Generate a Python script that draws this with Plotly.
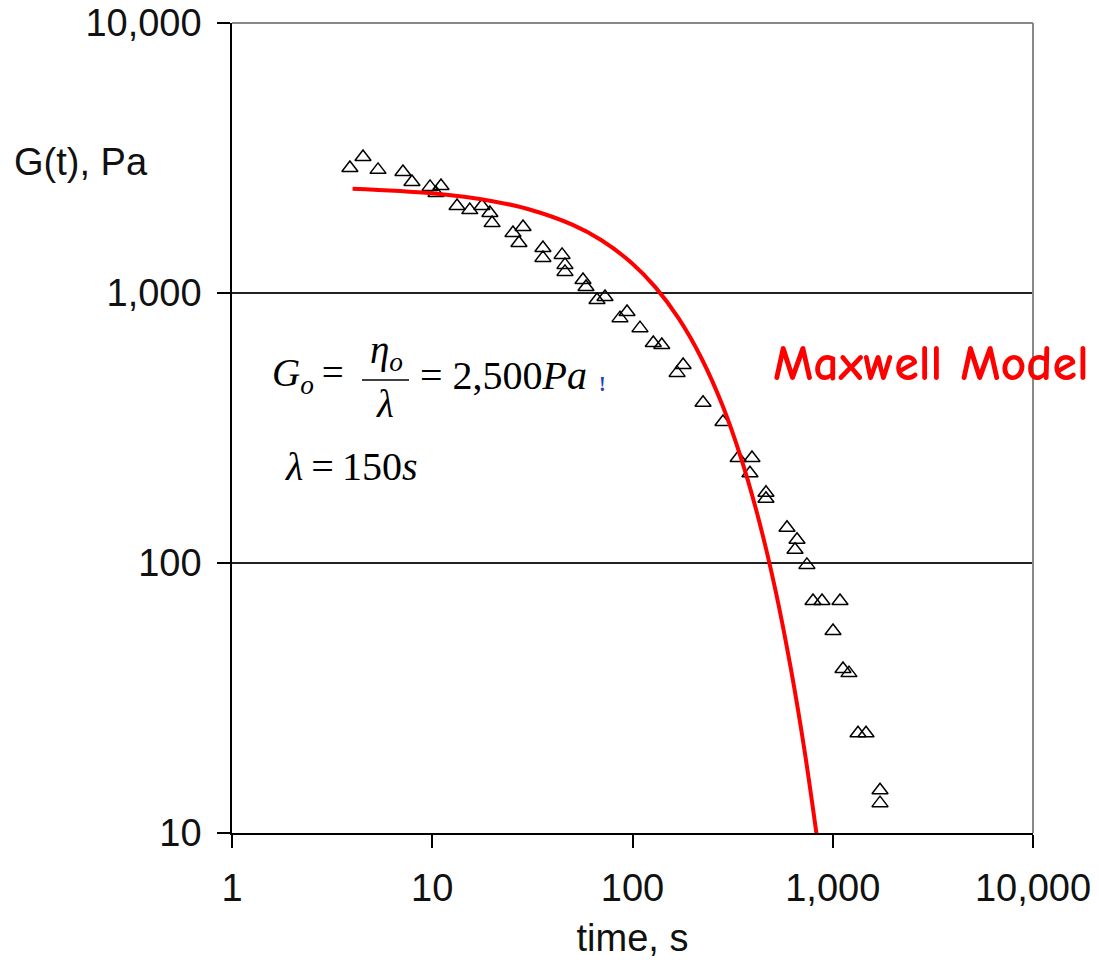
import plotly.graph_objects as go

# ---- data ----
time_s = [3.88, 4.51, 5.36, 7.14, 7.92, 9.75, 11.06, 10.44, 13.3, 15.4, 17.7, 19.4, 19.9,
          25.3, 28.4, 27.1, 35.7, 35.7, 44.5, 46.0, 46.0, 56.6, 58.6, 66.5, 72.9, 86.6,
          93.9, 109, 127, 140, 167, 179, 225, 283, 337, 395, 386, 464, 464, 591, 663,
          648, 743, 797, 884, 1087, 1003, 1125, 1205, 1337, 1466, 1722, 1722]
g_pa = [2904, 3190, 2858, 2805, 2577, 2472, 2490, 2344, 2099, 2028, 2099, 1977, 1815,
        1668, 1755, 1531, 1468, 1349, 1384, 1271, 1197, 1117, 1052, 942, 966, 807,
        851, 741, 653, 642, 506, 541, 392, 333, 245, 245, 215, 182, 173, 135, 122,
        112, 98.4, 72.3, 72.3, 72.3, 56.0, 40.5, 39.1, 23.4, 23.4, 14.4, 12.9]

model_t = [4, 10, 20, 30, 50, 70, 100, 130, 170, 220, 280, 350, 430, 520, 620, 720, 830]
model_g = [2434, 2339, 2188, 2047, 1791, 1568, 1284, 1051, 805, 577, 387, 242, 142,
           78, 40, 20.6, 9.9]

x_tickvals = [1, 10, 100, 1000, 10000]
x_ticktext = ["1", "10", "100", "1,000", "10,000"]
y_tickvals = [10, 100, 1000, 10000]
y_ticktext = ["10", "100", "1,000", "10,000"]

W, H = 1099, 962
L, R, T, B = 232, 1033, 23, 833


def xp(px):
    return (px - L) / (R - L)


def yp(py):
    return (B - py) / (B - T)


fig = go.Figure()
fig.add_trace(go.Scatter(
    x=time_s, y=g_pa, mode="markers",
    marker=dict(symbol="triangle-up-open", size=14, color="black",
                line=dict(width=1.5, color="black")),
    showlegend=False))
fig.add_trace(go.Scatter(
    x=model_t, y=model_g, mode="lines", line=dict(color="#ff0000", width=4, shape="spline"),
    showlegend=False))

tick_font = dict(family="Arial, Liberation Sans, sans-serif", size=38, color="#111111")

fig.update_layout(
    width=W, height=H, autosize=False,
    margin=dict(l=L, r=W - R, t=T, b=H - B, pad=0),
    paper_bgcolor="white", plot_bgcolor="white",
    xaxis=dict(type="log", range=[0, 4], tickvals=x_tickvals, ticktext=x_ticktext,
               showgrid=False, zeroline=False, showline=True, linecolor="black",
               linewidth=1.5, ticks="outside", ticklen=13, tickwidth=1.5,
               tickcolor="black", tickfont=tick_font, ticklabelstandoff=8,
               automargin=False,
               title=dict(text="time, s", font=tick_font, standoff=16)),
    yaxis=dict(type="log", range=[1, 4], tickvals=y_tickvals, ticktext=y_ticktext,
               showgrid=True, gridcolor="#222222", gridwidth=1.5, zeroline=False,
               showline=True, linecolor="black", linewidth=1.5, ticks="outside",
               ticklen=13, tickwidth=1.5, tickcolor="black", tickfont=tick_font,
               ticklabelstandoff=8, automargin=False),
)

# top and right frame lines (grey)
fig.add_shape(type="line", xref="paper", yref="paper", x0=0, x1=1, y0=1, y1=1,
              line=dict(color="#888888", width=2), layer="above")
fig.add_shape(type="line", xref="paper", yref="paper", x0=1, x1=1, y0=0, y1=1,
              line=dict(color="#888888", width=2), layer="above")

serif = "Times New Roman, Liberation Serif, serif"
ann = []
ann.append(dict(text="G(t), Pa", x=xp(12), y=yp(162), xanchor="left", yanchor="middle",
                font=dict(family="Arial, Liberation Sans, sans-serif", size=38, color="#111111")))
ann.append(dict(text="<i>G</i><sub><i>o</i></sub>\u2009=", x=xp(270), y=yp(375),
                xanchor="left", yanchor="middle", font=dict(family=serif, size=39, color="black")))
ann.append(dict(text="<i>η</i><sub><i>o</i></sub>", x=xp(386), y=yp(352),
                xanchor="center", yanchor="middle", font=dict(family=serif, size=39, color="black")))
ann.append(dict(text="<i>λ</i>", x=xp(385), y=yp(404),
                xanchor="center", yanchor="middle", font=dict(family=serif, size=39, color="black")))
ann.append(dict(text="= 2,500<i>Pa</i>", x=xp(418), y=yp(375),
                xanchor="left", yanchor="middle", font=dict(family=serif, size=40, color="black")))
ann.append(dict(text="<b>!</b>", x=xp(597), y=yp(384), xanchor="left", yanchor="middle",
                font=dict(family=serif, size=20, color="#1f3fbf")))
ann.append(dict(text="<i>λ</i>\u2009=\u2009150<i>s</i>", x=xp(283), y=yp(466),
                xanchor="left", yanchor="middle", font=dict(family=serif, size=40, color="black")))
ann.append(dict(text="<b>Maxwell Model</b>", x=xp(771), y=yp(364), xanchor="left",
                yanchor="middle",
                font=dict(family="Comic Sans MS, Comic Neue, Noto Sans, sans-serif", size=50,
                          color="#ff0000")))
for a in ann:
    a.update(xref="paper", yref="paper", showarrow=False)
fig.update_layout(annotations=ann)

# fraction bar
fig.add_shape(type="line", xref="paper", yref="paper", x0=xp(362), x1=xp(409),
              y0=yp(380), y1=yp(380), line=dict(color="black", width=1.5))

fig.write_html("out.html")
